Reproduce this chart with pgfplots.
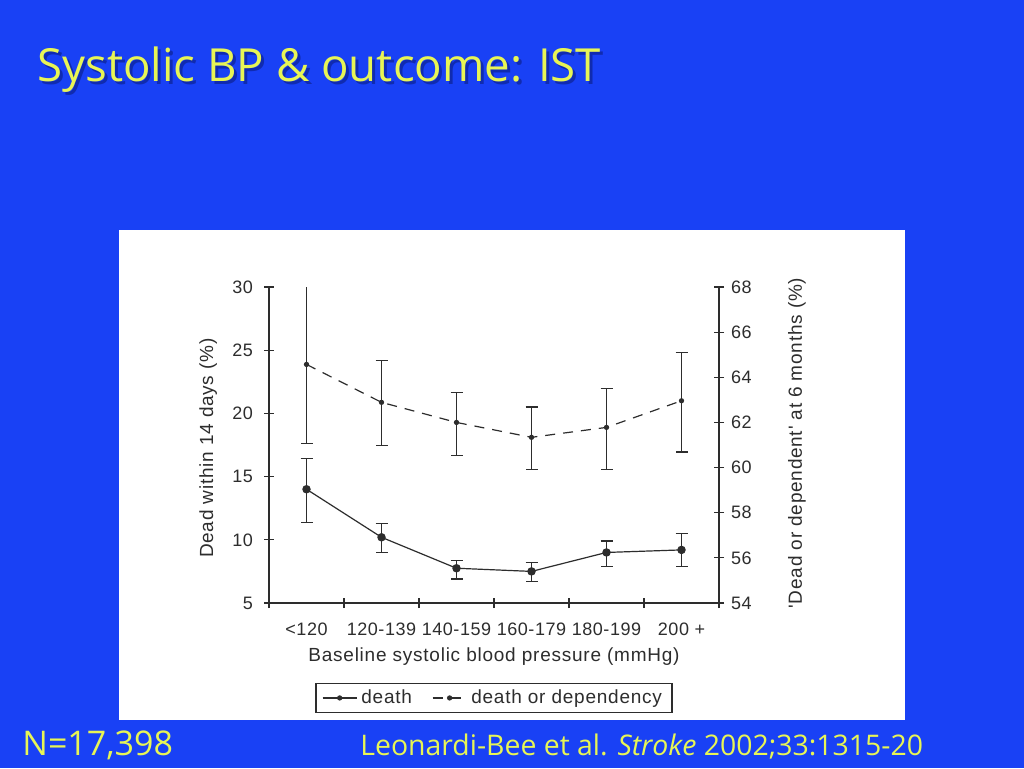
\documentclass[border=0pt]{standalone}
\usepackage{pgfplots}
\pgfplotsset{compat=1.18}
\usepackage{fontspec}
\setmainfont{Liberation Sans}
\newfontfamily\slidefont{Open Sans}
\newfontfamily\chartfont{Liberation Sans}[LetterSpace=4]
\newfontfamily\tickfont{Liberation Sans}[LetterSpace=3]
\definecolor{slideblue}{RGB}{25,65,245}
\definecolor{slideyellow}{RGB}{232,245,85}
\definecolor{shadowblue}{RGB}{10,25,120}
\definecolor{chartgray}{RGB}{45,45,45}

\pgfplotsset{
  chartbase/.style={
    at={(134.5pt,82.5pt)}, anchor=south west,
    scale only axis, width=225pt, height=158pt,
    xmin=0, xmax=6,
    tick align=center, major tick length=5pt,
    tick style={chartgray, line width=0.6pt},
    axis line style={chartgray, line width=0.6pt, -},
    ticklabel style={font=\tickfont\fontsize{9}{11}\selectfont, text=chartgray},
    label style={font=\chartfont\fontsize{9.5}{11}\selectfont, text=chartgray},
    /pgf/number format/assume math mode=true,
  },
  errstyle/.style={
    error bars/y dir=both, error bars/y explicit,
    error bars/error bar style={chartgray, line width=0.6pt, solid},
    error bars/error mark options={rotate=90, mark size=3pt, chartgray, line width=0.6pt, solid}},
}

\begin{document}
\begin{tikzpicture}[x=0.5pt,y=0.5pt]
\fill[slideblue] (0,0) rectangle (1024,768);
\fill[white] (119,48) rectangle (905,538);

\node[anchor=base west, inner sep=0, text=shadowblue, opacity=0.55] at (40,683)
  {\slidefont\fontsize{22.8}{28}\selectfont Systolic BP \& outcome: IST};
\node[anchor=base west, inner sep=0, text=slideyellow] at (37,686)
  {\slidefont\fontsize{22.8}{28}\selectfont Systolic BP \& outcome: IST};

\node[anchor=base west, inner sep=0, text=slideyellow] at (22,13)
  {\slidefont\fontsize{17}{20}\selectfont N=17,398};
\node[anchor=base west, inner sep=0, text=slideyellow] at (360,13)
  {\slidefont\fontsize{14.2}{18}\selectfont Leonardi-Bee et al. \textit{Stroke} 2002;33:1315-20};

% left axis: death within 14 days
\begin{axis}[chartbase,
  ymin=5, ymax=30, ytick={5,10,...,30},
  axis x line*=bottom, axis y line*=left,
  yticklabel style={xshift=-2pt},
  xtick={0,1,...,6}, xticklabels={},
  extra x ticks={0.5,1.5,2.5,3.5,4.5,5.5},
  extra x tick labels={{<120},{120-139},{140-159},{160-179},{180-199},{200 +}},
  extra x tick style={major tick length=0pt, xticklabel style={yshift=-6.5pt}},
  ylabel={Dead within 14 days (\%)},
  ylabel style={at={(axis description cs:-0.135,0.49)}, anchor=center},
  xlabel={Baseline systolic blood pressure (mmHg)},
  xlabel style={at={(axis description cs:0.5,-0.171)}, anchor=center},
]
\addplot[chartgray, line width=0.6pt, mark=*, mark size=1.8pt, errstyle]
  coordinates {
    (0.5,14.0) += (0,2.45) -= (0,2.6)
    (1.5,10.2) += (0,1.1)  -= (0,1.2)
    (2.5,7.75) += (0,0.62) -= (0,0.85)
    (3.5,7.5)  += (0,0.7)  -= (0,0.79)
    (4.5,9.0)  += (0,0.9)  -= (0,1.1)
    (5.5,9.2)  += (0,1.33) -= (0,1.3)
  };
\end{axis}

% right axis: dead or dependent at 6 months
\begin{axis}[chartbase,
  ymin=54, ymax=68, ytick={54,56,...,68},
  axis x line=none, axis y line*=right,
  ylabel={'Dead or dependent' at 6 months (\%)},
  ylabel style={at={(axis description cs:1.173,0.506)}, anchor=center},
  legend style={at={(0.5,-0.253)}, anchor=north, legend columns=2,
    draw=chartgray, line width=0.6pt, fill=white,
    font=\chartfont\fontsize{9.5}{11}\selectfont, text=chartgray,
    inner ysep=1pt,
    /tikz/every even column/.append style={column sep=8pt}},
]
\addlegendimage{chartgray, line width=0.6pt, mark=*, mark size=1pt}
\addlegendentry{death}
\addplot[chartgray, line width=0.6pt, dash pattern=on 5pt off 4pt,
  mark=*, mark size=1pt, mark options={solid}, errstyle]
  coordinates {
    (0.5,64.57) += (0,3.46) -= (0,3.51)
    (1.5,62.89) += (0,1.87) -= (0,1.92)
    (2.5,62.00) += (0,1.34) -= (0,1.47)
    (3.5,61.34) += (0,1.34) -= (0,1.44)
    (4.5,61.78) += (0,1.74) -= (0,1.88)
    (5.5,62.96) += (0,2.15) -= (0,2.27)
  };
\addlegendentry{death or dependency}
\end{axis}
\end{tikzpicture}
\end{document}
